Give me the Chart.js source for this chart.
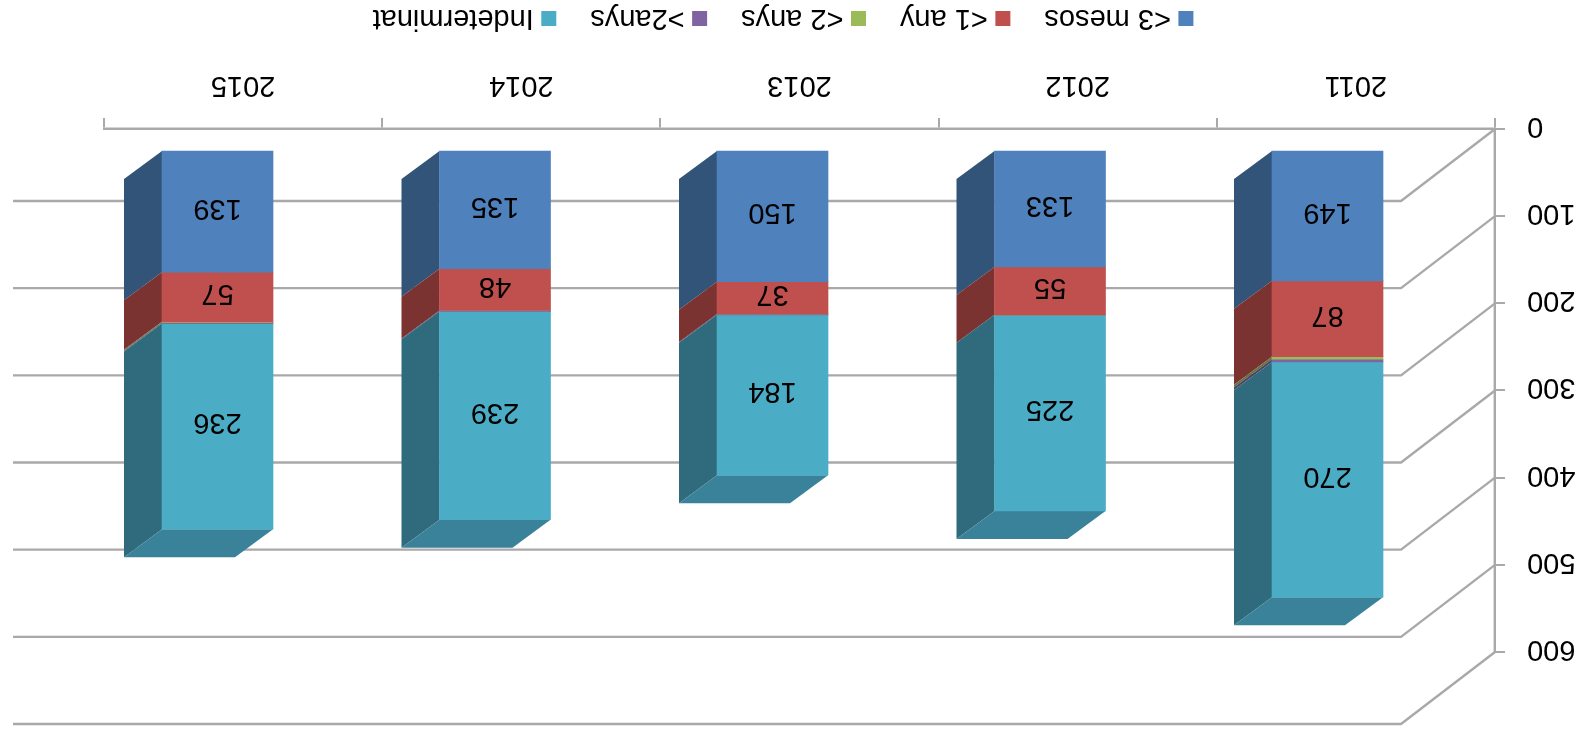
<!DOCTYPE html>
<html><head><meta charset="utf-8">
<style>html,body{margin:0;padding:0;background:#fff;overflow:hidden}
canvas{position:absolute;left:0;top:0;transform:rotate(180deg);filter:blur(.6px)}</style>
<script src="https://cdn.jsdelivr.net/npm/chart.js@4"></script>
</head><body><canvas id="c" width="1580" height="733"></canvas>
<script>
const categories = ['2011','2012','2013','2014','2015'];
const seriesNames = ['<3 mesos','<1 any','<2 anys','>2anys','Indeterminat'];
const mesos3 = [149,133,150,135,139];
const any1 = [87,55,37,48,57];
const anys2 = [3,0,0,0,1];
const anysMes2 = [3,0,1,1,1];
const indeterminat = [270,225,184,239,236];
const yTicks = [0,100,200,300,400,500,600];

const FONT = {family:'"Liberation Sans"', size:29};
const GREY = '#a9a9a9';
const DEPTH = {x:38, y:28};
const WALL = {x:94, y:72};
const xpos = categories.map((_,i)=>i);
function series(label, values, color, side, showValue){
  return {label, data: values.map((v,i)=>({x:xpos[i],y:v})), backgroundColor:color, sideColor:side,
    showValue, xAxisID:'xBar', yAxisID:'yBar', stack:'s', barThickness:111, borderWidth:0};
}
const walls = {
  id:'walls',
  afterLayout(chart){
    const l = chart.legend;
    l.left = 21; l.right = 1580; l.top += 6; l.bottom += 6;
    chart.scales.x.bottom += 40;
    const y = chart.scales.y, compute = y._computeLabelItems;
    y._computeLabelItems = function(area){
      return compute.call(this, area).map(item=>{ item.options.translation[1] += 3; return item; });
    };
  },
  beforeDatasetsDraw(chart){
    const {ctx, scales:{y}, chartArea:a} = chart;
    ctx.save();
    ctx.strokeStyle = GREY; ctx.lineWidth = 2.4;
    yTicks.forEach(t=>{
      const p = y.getPixelForValue(t);
      ctx.beginPath();
      ctx.moveTo(a.left, p);
      ctx.lineTo(a.left+WALL.x, p-WALL.y);
      ctx.lineTo(a.right+WALL.x-3, p-WALL.y);
      ctx.stroke();
    });
    const n = chart.data.datasets.length;
    for(let d=0;d<n;d++){
      const ds = chart.data.datasets[d];
      chart.getDatasetMeta(d).data.forEach(el=>{
        const r = el.x+el.width/2, l = el.x-el.width/2, t = el.y, b = el.base;
        if(Math.abs(b-t)<0.01) return;
        ctx.fillStyle = ds.sideColor[0];
        ctx.beginPath();
        ctx.moveTo(r,t); ctx.lineTo(r+DEPTH.x,t-DEPTH.y); ctx.lineTo(r+DEPTH.x,b-DEPTH.y); ctx.lineTo(r,b);
        ctx.closePath(); ctx.fill();
        if(d===n-1){
          ctx.fillStyle = ds.sideColor[1];
          ctx.beginPath();
          ctx.moveTo(l,t); ctx.lineTo(r,t); ctx.lineTo(r+DEPTH.x,t-DEPTH.y); ctx.lineTo(l+DEPTH.x,t-DEPTH.y);
          ctx.closePath(); ctx.fill();
        }
      });
    }
    ctx.restore();
  },
  afterDatasetsDraw(chart){
    const {ctx} = chart;
    ctx.save();
    ctx.font = `${FONT.size}px ${FONT.family}`;
    ctx.fillStyle = '#000'; ctx.textAlign='center'; ctx.textBaseline='middle';
    chart.data.datasets.forEach((ds,d)=>{
      if(!ds.showValue) return;
      chart.getDatasetMeta(d).data.forEach((el,i)=>{
        ctx.fillText(String(ds.data[i].y), el.x, (el.y+el.base)/2+4);
      });
    });
    ctx.restore();
  }
};
const chart = new Chart(document.getElementById('c'),{
  type:'bar',
  data:{labels:categories, datasets:[
    series(seriesNames[0],mesos3,'#4F81BD',['#325478','#3B618E'],true),
    series(seriesNames[1],any1,'#C0504D',['#7A3331','#903C3A'],true),
    series(seriesNames[2],anys2,'#9BBB59',['#627738','#748C43'],false),
    series(seriesNames[3],anysMes2,'#8064A2',['#514067','#604B7A'],false),
    series(seriesNames[4],indeterminat,'#4BACC6',['#2F6B7D','#3A8299'],true)
  ]},
  plugins:[walls],
  options:{
    responsive:false, animation:false, devicePixelRatio:1,
    layout:{padding:{top:81,right:104,left:0,bottom:0}},
    plugins:{
      tooltip:{enabled:false},
      legend:{display:true,position:'bottom',
        labels:{color:'#000',font:FONT,padding:41,boxWidth:1,boxHeight:1,
          generateLabels(chart){
            return Chart.defaults.plugins.legend.labels.generateLabels(chart).map(it=>({...it,strokeStyle:it.fillStyle,lineWidth:14}));
          }}}
    },
    scales:{
      x:{type:'category',position:'bottom',offset:true,
        afterFit(s){s.height=129-s.chart.legend.height;},
        border:{display:true,color:GREY,width:2.4},
        grid:{display:true,offset:true,drawOnChartArea:false,drawTicks:true,tickLength:11,color:GREY,lineWidth:2},
        ticks:{color:'#000',font:FONT,padding:16,maxRotation:0}},
      y:{type:'linear',position:'left',min:0,max:600,
        afterFit(s){s.width=85;},
        afterBuildTicks(s){s.ticks=yTicks.map(v=>({value:v}));},
        border:{display:true,color:GREY,width:2.4},
        grid:{display:true,drawOnChartArea:false,drawTicks:true,tickLength:10,color:GREY,lineWidth:2},
        ticks:{color:'#000',font:FONT,padding:22}},
      xBar:{type:'linear',display:false,stacked:true,min:-0.6036,max:4.4090,offset:false},
      yBar:{type:'linear',display:false,stacked:true,min:-25.2,max:574.8}
    }
  }
});
</script></body></html>
